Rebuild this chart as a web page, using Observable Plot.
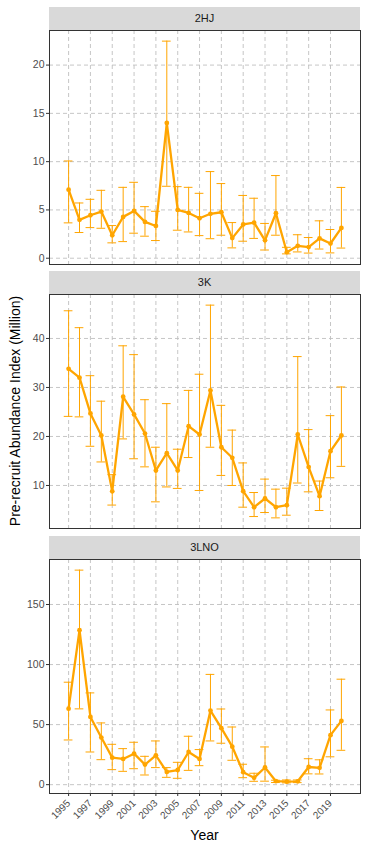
<!DOCTYPE html>
<html><head><meta charset="utf-8">
<script src="https://cdn.jsdelivr.net/npm/d3@7"></script>
<script src="https://cdn.jsdelivr.net/npm/@observablehq/plot@0.6"></script>
<style>
body{margin:0;background:#fff;font-family:"Liberation Sans",Arial,sans-serif;}
#wrap{position:relative;width:367px;height:850px;overflow:hidden;background:#fff;}
.strip{position:absolute;left:49px;width:311px;height:22.5px;background:#d9d9d9;color:#1a1a1a;font-size:11px;display:flex;align-items:center;justify-content:center;}
.panel{position:absolute;left:0;}
.panel svg{display:block;}
#ytitle{position:absolute;left:15px;top:411px;transform:translate(-50%,-50%) rotate(-90deg);white-space:nowrap;font-size:14px;color:#000;}
#xtitle{position:absolute;left:204.5px;top:835px;transform:translate(-50%,-50%);font-size:14px;color:#000;}
</style></head>
<body><div id="wrap"></div>
<script>
// ---- data ----
const years = [1995,1996,1997,1998,1999,2000,2001,2002,2003,2004,2005,2006,2007,2008,2009,2010,2011,2012,2013,2014,2015,2016,2017,2018,2019,2020];
const regions = ["2HJ","3K","3LNO"];

const hjIndex = [7.1,3.97,4.45,4.83,2.38,4.28,4.9,3.76,3.34,14.0,5.0,4.69,4.14,4.6,4.76,2.08,3.5,3.68,1.85,4.66,0.62,1.28,1.15,2.05,1.52,3.14];
const hjLower = [3.66,2.66,3.17,3.1,1.59,1.72,2.59,2.28,1.83,7.45,2.9,2.72,2.34,2.02,2.38,1.07,1.76,2.05,0.85,2.38,0.45,0.65,0.53,0.95,0.55,1.05];
const hjUpper = [10.07,5.72,6.1,7.03,3.38,7.34,7.86,5.34,4.86,22.48,7.41,7.34,6.72,8.97,7.73,3.69,6.5,6.21,3.6,8.56,1.13,2.43,2.14,3.87,2.97,7.33];

const kIndex = [33.8,32.0,24.7,20.2,8.8,28.1,24.5,20.6,13.06,16.6,13.06,22.1,20.4,29.4,17.8,15.65,8.84,5.57,7.34,5.57,5.98,20.4,13.75,7.82,17.0,20.2];
const kLower = [24.1,24.0,18.0,14.8,6.0,19.5,15.45,13.8,6.66,9.7,9.4,15.7,8.98,17.8,12.05,10.0,5.57,3.66,4.48,3.39,3.93,10.5,8.7,4.89,11.57,13.9];
const kUpper = [45.65,42.2,32.4,27.2,12.2,38.5,36.7,27.5,17.8,26.7,17.4,29.4,32.7,46.8,26.35,21.3,14.6,8.56,11.3,9.25,9.45,36.3,21.4,10.9,24.25,30.1];

const lnoIndex = [63.3,128.6,56.4,39.2,22.5,21.4,25.8,16.7,24.4,10.6,12.2,27.2,21.4,61.7,47.0,31.6,10.4,5.7,14.3,2.9,2.5,2.8,14.7,14.0,41.2,53.1];
const lnoLower = [37.2,63.1,27.2,20.8,12.5,11.1,13.3,8.05,14.2,6.1,5.3,11.9,15.8,36.4,34.5,20.3,5.8,2.8,2.9,1.8,1.5,1.7,9.0,8.9,23.2,28.6];
const lnoUpper = [85.3,178.6,76.4,51.4,33.6,30.0,35.3,23.6,36.4,14.2,18.6,40.3,29.2,91.8,63.0,48.0,17.0,9.5,31.4,3.7,3.9,3.9,21.6,20.7,62.2,87.8];

const yTicksHJ = [0,5,10,15,20];
const yTicksK = [10,20,30,40];
const yTicksLNO = [0,50,100,150];
const xTickYears = [1995,1997,1999,2001,2003,2005,2007,2009,2011,2013,2015,2017,2019];

const yLabel = "Pre-recruit Abundance Index (Million)";
const xLabel = "Year";

// ---- layout ----
const ORANGE = "#FFA500";
const FONT = '"Liberation Sans", Arial, sans-serif';
const panelDefs = [
  {name: regions[0], est: hjIndex, lo: hjLower, hi: hjUpper, ticks: yTicksHJ, stripTop: 7, panelTop: 29.5},
  {name: regions[1], est: kIndex, lo: kLower, hi: kUpper, ticks: yTicksK, stripTop: 271, panelTop: 293.5},
  {name: regions[2], est: lnoIndex, lo: lnoLower, hi: lnoUpper, ticks: yTicksLNO, stripTop: 536, panelTop: 558.5}
];
const PANEL_H = 234;
const wrap = document.getElementById("wrap");

panelDefs.forEach((p, idx) => {
  const isLast = idx === panelDefs.length - 1;
  const data = years.map((y, i) => ({year: y, est: p.est[i], lo: p.lo[i], hi: p.hi[i]}));
  const mn = d3.min(p.lo), mx = d3.max(p.hi), pad = (mx - mn) * 0.05;
  const mt = 1, mb = isLast ? 40 : 1;
  const grid = {stroke: "#c0c0c0", strokeOpacity: 1, strokeWidth: 0.9, strokeDasharray: "4,3"};
  const chart = Plot.plot({
    width: 367,
    height: PANEL_H + mt + mb,
    marginLeft: 49, marginRight: 7, marginTop: mt, marginBottom: mb,
    x: {domain: [1993.25, 2021.75], axis: null},
    y: {domain: [mn - pad, mx + pad], axis: null},
    style: {fontFamily: FONT, background: "transparent", overflow: "visible"},
    marks: [
      Plot.gridX(xTickYears, grid),
      Plot.gridY(p.ticks, grid),
      Plot.ruleX(data, {x: "year", y1: "lo", y2: "hi", stroke: ORANGE, strokeWidth: 1}),
      Plot.ruleY(data, {y: "hi", x1: d => d.year - 0.4, x2: d => d.year + 0.4, stroke: ORANGE, strokeWidth: 1}),
      Plot.ruleY(data, {y: "lo", x1: d => d.year - 0.4, x2: d => d.year + 0.4, stroke: ORANGE, strokeWidth: 1}),
      Plot.line(data, {x: "year", y: "est", stroke: ORANGE, strokeWidth: 2.3}),
      Plot.dot(data, {x: "year", y: "est", fill: ORANGE, stroke: "none", r: 2.4}),
      Plot.axisY(p.ticks, {tickSize: 3, tickPadding: 2, label: null, color: "#4d4d4d", fontSize: 10.5, stroke: "#333"}),
      ...(isLast ? [Plot.axisX(xTickYears, {tickSize: 3, tickPadding: 5, tickRotate: -45, tickFormat: "d", label: null, color: "#4d4d4d", fontSize: 10, stroke: "#333"})] : []),
      Plot.frame({stroke: "#333", strokeWidth: 1})
    ]
  });
  const strip = document.createElement("div");
  strip.className = "strip";
  strip.style.top = p.stripTop + "px";
  strip.textContent = p.name;
  wrap.appendChild(strip);
  const holder = document.createElement("div");
  holder.className = "panel";
  holder.style.top = (p.panelTop - mt) + "px";
  holder.appendChild(chart);
  wrap.appendChild(holder);
});

const yt = document.createElement("div");
yt.id = "ytitle"; yt.textContent = yLabel; wrap.appendChild(yt);
const xt = document.createElement("div");
xt.id = "xtitle"; xt.textContent = xLabel; wrap.appendChild(xt);
</script>
</body></html>
